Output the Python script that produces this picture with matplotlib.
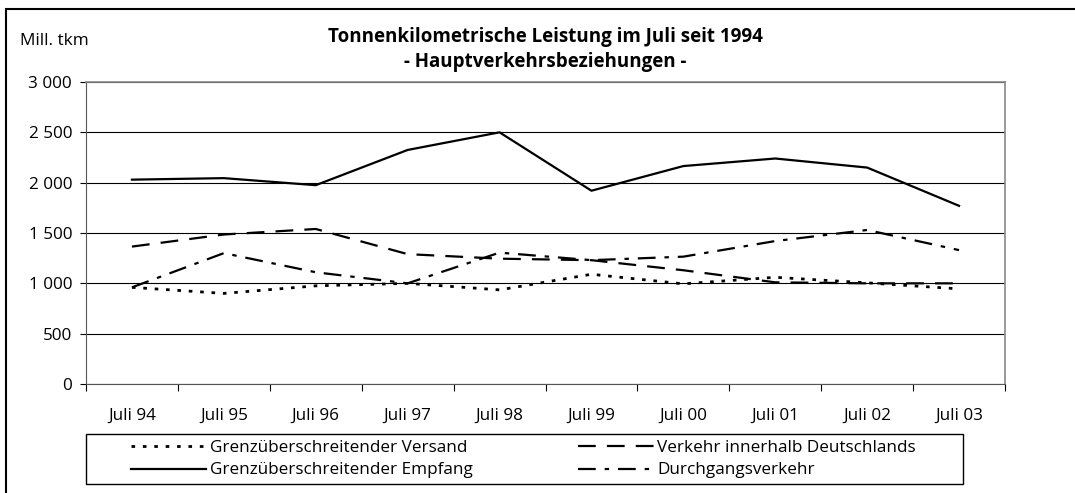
import matplotlib
matplotlib.use("Agg")
from matplotlib import pyplot as plt
from matplotlib.patches import Rectangle

plt.rcParams['font.family'] = ['Open Sans', 'DejaVu Sans']

labels = ['Juli 94', 'Juli 95', 'Juli 96', 'Juli 97', 'Juli 98',
          'Juli 99', 'Juli 00', 'Juli 01', 'Juli 02', 'Juli 03']
versand = [960, 900, 975, 1000, 935, 1090, 995, 1060, 1005, 945]
empfang = [2030, 2045, 1975, 2325, 2500, 1920, 2165, 2240, 2150, 1770]
innerhalb = [1365, 1485, 1540, 1290, 1245, 1230, 1130, 1010, 1000, 1000]
durchgang = [960, 1300, 1110, 1000, 1305, 1230, 1265, 1420, 1530, 1330]

W, H = 1075, 493
fs = 12.3

fig = plt.figure(figsize=(W/100, H/100), dpi=100)
ax = fig.add_axes([86/W, 1 - 384/H, (1005 - 86)/W, (384 - 82)/H])

x = list(range(len(labels)))
l1, = ax.plot(x, versand, color='black', lw=2, linestyle=(0, (1.3, 2.8)),
              label='Grenzüberschreitender Versand')
l2, = ax.plot(x, empfang, color='black', lw=1.6, label='Grenzüberschreitender Empfang')
l3, = ax.plot(x, innerhalb, color='black', lw=1.6, linestyle=(0, (8, 5)),
              label='Verkehr innerhalb Deutschlands')
l4, = ax.plot(x, durchgang, color='black', lw=1.6, linestyle=(0, (8, 4, 2, 4)),
              label='Durchgangsverkehr')

ax.set_xlim(-0.5, len(labels) - 0.5)
ax.set_ylim(0, 3000)
ax.set_yticks(range(0, 3001, 500))
ax.set_yticklabels(['0', '500', '1 000', '1 500', '2 000', '2 500', '3 000'], fontsize=fs)
ax.yaxis.grid(True, color='black', lw=0.8)
ax.set_axisbelow(True)
ax.set_xticks([i + 0.5 for i in range(-1, len(labels))])
ax.set_xticklabels([])
ax.set_xticks(x, minor=True)
ax.set_xticklabels(labels, minor=True, fontsize=fs)
ax.tick_params(axis='x', which='minor', length=0, pad=17)
ax.tick_params(axis='x', which='major', length=5, color='black')
ax.tick_params(axis='y', length=4, pad=6)
for s in ['top', 'right']:
    ax.spines[s].set_color('#888888')
    ax.spines[s].set_linewidth(1.2)
ax.spines['left'].set_color('#555555')
ax.spines['bottom'].set_color('#555555')

fig.text(545/W, 1 - 37/H, 'Tonnenkilometrische Leistung im Juli seit 1994',
         ha='center', va='center', fontsize=13.5, fontweight='bold')
fig.text(545/W, 1 - 62/H, '- Hauptverkehrsbeziehungen -',
         ha='center', va='center', fontsize=13.5, fontweight='bold')
fig.text(20/W, 1 - 41/H, 'Mill. tkm', ha='left', va='center', fontsize=fs)

# legend box drawn separately, legend itself frameless
fig.patches.append(Rectangle((86/W, 1 - 484/H), (963 - 86)/W, 50/H,
                             transform=fig.transFigure, fill=False,
                             edgecolor='black', lw=1.0))
leg = fig.legend(handles=[l1, l2, l3, l4], ncol=2, loc='upper left',
                 bbox_to_anchor=(131/W, 1 - 440/H),
                 fontsize=fs, frameon=False, handlelength=4.4, handletextpad=0.2,
                 columnspacing=6.2, borderpad=0, labelspacing=0.38, borderaxespad=0)

fig.patches.append(Rectangle((6/W, -0.05), 1.2, 1 - 9/H + 0.05,
                             transform=fig.transFigure, fill=False,
                             edgecolor='black', lw=1.5))

fig.savefig('out.png', dpi=100)
